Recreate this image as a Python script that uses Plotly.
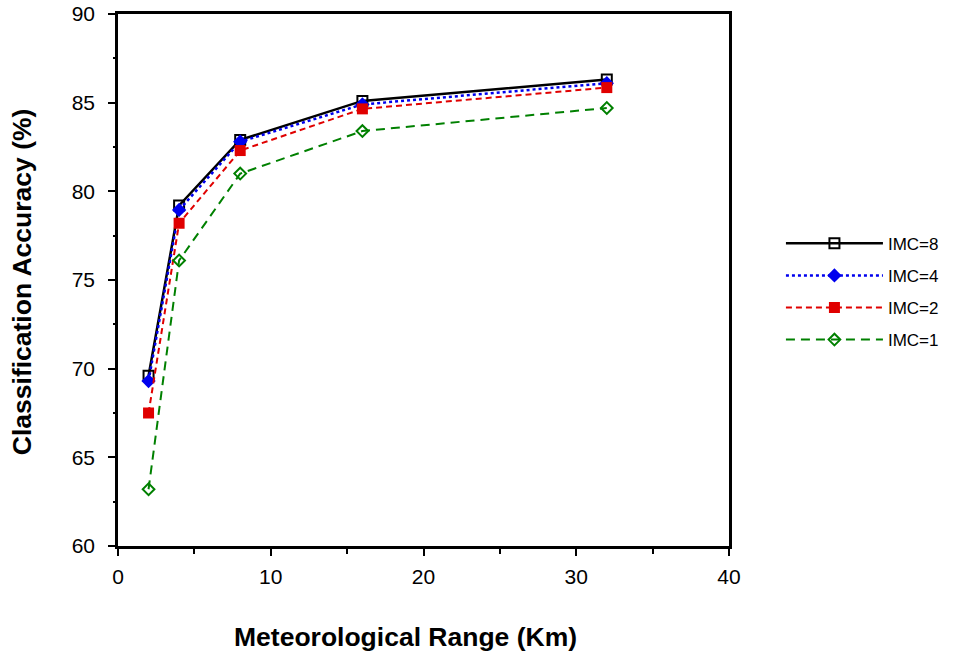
import plotly.graph_objects as go

ranges_km = [2, 4, 8, 16, 32]
imc8 = [69.6, 79.2, 82.9, 85.1, 86.3]
imc4 = [69.3, 78.95, 82.8, 84.9, 86.1]
imc2 = [67.5, 78.2, 82.3, 84.65, 85.85]
imc1 = [63.2, 76.1, 81.0, 83.4, 84.7]

series = [
    ("IMC=8", imc8, dict(color="#000000", width=2.5, dash="solid"),
     dict(symbol="square-open", size=10, color="#000000", line=dict(width=2, color="#000000"))),
    ("IMC=4", imc4, dict(color="#0000EE", width=2.5, dash="dot"),
     dict(symbol="diamond", size=11, color="#0000EE", line=dict(width=0))),
    ("IMC=2", imc2, dict(color="#E00000", width=2, dash="6px,4px"),
     dict(symbol="square", size=11, color="#E00000", line=dict(width=0))),
    ("IMC=1", imc1, dict(color="#008000", width=2, dash="9px,6px"),
     dict(symbol="diamond-open", size=9, color="#008000", line=dict(width=2, color="#008000"))),
]

fig = go.Figure()
for i, (name, vals, ln, mk) in enumerate(series):
    fig.add_trace(go.Scatter(x=ranges_km, y=vals, mode="lines+markers", name=name,
                             line=ln, marker=mk, legendgroup=f"g{i}"))

FAM = "Liberation Sans, Arial"
axis_font = dict(family=FAM, size=21, color="#000000")
common = dict(showgrid=False, zeroline=False, showline=True, linecolor="#000000", linewidth=2.5,
              mirror=True, ticks="outside", ticklen=7, tickwidth=2, tickcolor="#000000",
              tickfont=axis_font, automargin=False)

fig.update_layout(
    width=964, height=658,
    margin=dict(l=118, r=235, t=14, b=112, autoexpand=False),
    plot_bgcolor="white", paper_bgcolor="white",
    font=dict(family=FAM, color="#000000"),
    legend=dict(x=1.085, y=0.602, xanchor="left", yanchor="top",
                font=dict(family=FAM, size=17, color="#000000"),
                tracegroupgap=7, itemwidth=97, bgcolor="rgba(0,0,0,0)"),
    xaxis=dict(range=[0, 40], tickvals=[0, 10, 20, 30, 40], ticklabelstandoff=3,
               minor=dict(tickvals=[5, 15, 25, 35], ticks="outside", ticklen=5, tickwidth=2,
                          tickcolor="#000000", showgrid=False),
               **common),
    yaxis=dict(range=[60, 90], tickvals=[60, 65, 70, 75, 80, 85, 90], ticklabelstandoff=9,
               minor=dict(tickvals=[62.5, 67.5, 72.5, 77.5, 82.5, 87.5], ticks="outside", ticklen=2,
                          tickwidth=2, tickcolor="#000000", showgrid=False),
               **common),
    annotations=[
        dict(text="<b>Meteorological Range (Km)</b>", xref="paper", yref="paper",
             x=0.471, y=-0.171, xanchor="center", yanchor="middle", showarrow=False,
             font=dict(family=FAM, size=26.5, color="#000000")),
        dict(text="<b>Classification Accuracy (%)</b>", xref="paper", yref="paper",
             x=-0.157, y=0.496, xanchor="center", yanchor="middle", showarrow=False,
             textangle=-90, font=dict(family=FAM, size=26.5, color="#000000")),
    ],
)

fig.write_html("out.html", config={"displayModeBar": False},
               post_script="document.body.style.margin='0';")
